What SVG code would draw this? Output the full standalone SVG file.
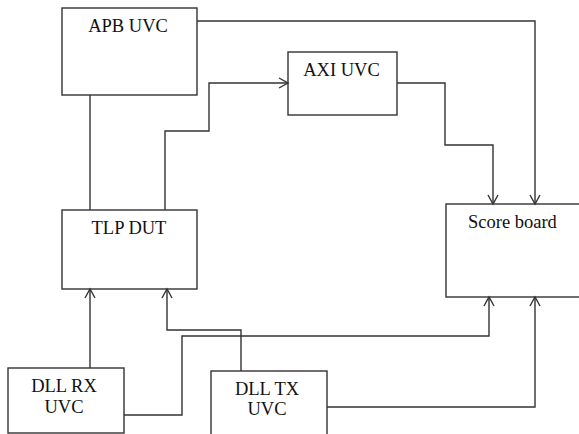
<svg xmlns="http://www.w3.org/2000/svg" width="579" height="434" viewBox="0 0 579 434">
<style>
.box{fill:#fff;stroke:#333;stroke-width:1.4}
.lbl{font-family:"Liberation Serif","Times New Roman",serif;font-size:18.5px;fill:#111}
.c{text-anchor:middle}
.wire{fill:none;stroke:#333;stroke-width:1.4}
</style>
<defs>
<marker id="arr" markerUnits="userSpaceOnUse" markerWidth="14" markerHeight="14" viewBox="-12 -7 14 14" refX="0" refY="0" orient="auto">
<path d="M-9,-5 L0,0 L-9,5" fill="none" stroke="#333" stroke-width="1.4"/>
</marker>
</defs>
<rect width="579" height="434" fill="#fff"/>
<g id="nodes">
<g id="apb"><rect class="box" x="62" y="8" width="135" height="87"/><text class="lbl c" x="128" y="32">APB UVC</text></g>
<g id="axi"><rect class="box" x="288" y="52" width="109" height="63"/><text class="lbl c" x="341.5" y="76">AXI UVC</text></g>
<g id="tlp"><rect class="box" x="62" y="210" width="135" height="79"/><text class="lbl c" x="129" y="234">TLP DUT</text></g>
<g id="score"><rect class="box" x="446" y="204" width="140" height="93"/><text class="lbl" x="468" y="228">Score board</text></g>
<g id="dllrx"><rect class="box" x="8" y="368" width="116" height="65"/><text class="lbl c" x="64" y="392">DLL RX</text><text class="lbl c" x="64" y="413">UVC</text></g>
<g id="dlltx"><rect class="box" x="211" y="371" width="116" height="70"/><text class="lbl c" x="267" y="395">DLL TX</text><text class="lbl c" x="267" y="415">UVC</text></g>
</g>
<g id="connectors">
<path class="wire" d="M197,21 H535 V204" marker-end="url(#arr)"/>
<path class="wire" d="M165,210 V131 H209 V83 H288" marker-end="url(#arr)"/>
<path class="wire" d="M397,83 H445 V145 H493 V204" marker-end="url(#arr)"/>
<path class="wire" d="M90,95 V210"/>
<path class="wire" d="M90,368 V289" marker-end="url(#arr)"/>
<path class="wire" d="M241,371 V330 H167 V289" marker-end="url(#arr)"/>
<path class="wire" d="M124,415 H182 V336 H489 V297" marker-end="url(#arr)"/>
<path class="wire" d="M327,407 H535 V297" marker-end="url(#arr)"/>
</g>
</svg>
